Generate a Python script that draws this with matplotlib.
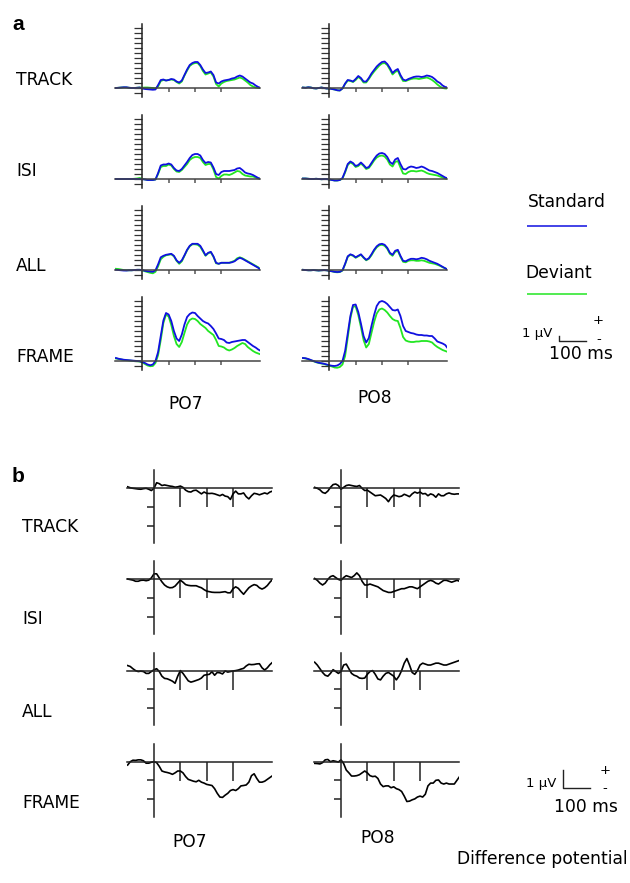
import numpy as np
import matplotlib.pyplot as plt

# time base of the read-off waveforms (ms)
times = np.arange(-100, 451, 10)

conditions = ["TRACK", "ISI", "ALL", "FRAME"]
channels = ["PO7", "PO8"]

# ---- panel a: standard / deviant ERPs (uV) ----
track_po7_std = [0.0, 0.05, 0.1, 0.15, 0.15, 0.05, 0.0, 0.0, 0.05, 0.1,
                 -0.1, -0.2, -0.25, -0.3, -0.35, -0.3, 0.6, 1.6, 1.7, 1.5,
                 1.6, 1.8, 1.7, 1.3, 1.1, 1.5, 2.6, 3.7, 4.6, 5.0,
                 5.2, 5.2, 4.6, 3.7, 3.0, 3.1, 3.3, 2.6, 1.1, 0.9,
                 1.3, 1.5, 1.6, 1.7, 1.9, 2.0, 2.3, 2.5, 2.3, 1.9,
                 1.5, 1.1, 0.9, 0.5, 0.2, 0.0]
track_po7_dev = [0.0, 0.05, 0.1, 0.12, 0.1, 0.05, 0.0, 0.0, 0.05, 0.1,
                 0.05, 0.1, 0.1, 0.05, 0.0, -0.1, 0.3, 1.4, 1.6, 1.5,
                 1.6, 1.7, 1.6, 1.2, 0.9, 1.3, 2.5, 3.5, 4.4, 4.8,
                 5.0, 5.0, 4.4, 3.4, 2.7, 2.9, 3.1, 2.3, 0.8, 0.3,
                 0.9, 1.2, 1.4, 1.5, 1.6, 1.7, 1.9, 2.1, 1.9, 1.5,
                 1.1, 0.6, 0.3, 0.1, 0.0, 0.0]
track_po8_std = [0.1, 0.05, 0.15, 0.1, -0.05, -0.1, 0.0, 0.1, 0.0, -0.1,
                 -0.1, -0.2, -0.3, -0.45, -0.5, -0.1, 0.9, 1.6, 1.5, 1.3,
                 1.8, 2.4, 2.0, 1.3, 1.3, 2.0, 2.9, 3.6, 4.3, 4.8,
                 5.2, 5.3, 4.8, 4.0, 3.0, 3.5, 3.8, 2.6, 1.7, 1.5,
                 1.8, 2.0, 2.2, 2.3, 2.3, 2.2, 2.3, 2.5, 2.4, 2.2,
                 1.8, 1.3, 1.0, 0.5, 0.2, 0.1]
track_po8_dev = [0.1, 0.05, 0.15, 0.1, -0.05, -0.1, 0.0, 0.1, 0.0, -0.1,
                 -0.1, -0.2, -0.3, -0.45, -0.5, -0.1, 0.8, 1.5, 1.4, 1.2,
                 1.6, 2.2, 1.8, 1.1, 1.1, 1.8, 2.6, 3.3, 3.9, 4.5,
                 4.9, 5.0, 4.6, 3.7, 2.7, 3.2, 3.5, 2.3, 1.4, 1.4,
                 1.6, 1.8, 1.9, 1.9, 1.8, 1.9, 2.0, 2.1, 1.9, 1.6,
                 1.2, 0.7, 0.3, 0.0, -0.1, -0.1]
isi_po7_std = [0.0, 0.0, 0.0, 0.0, 0.0, 0.0, 0.0, 0.0, 0.0, 0.0,
               -0.05, -0.1, -0.2, -0.2, -0.2, -0.1, 1.2, 2.7, 2.9, 2.9,
               3.1, 2.9, 2.2, 1.7, 1.6, 2.0, 2.7, 3.4, 4.2, 4.8,
               5.0, 5.0, 4.7, 3.8, 3.2, 3.4, 3.3, 2.3, 1.0, 0.8,
               1.4, 1.6, 1.6, 1.6, 1.7, 1.8, 2.1, 2.2, 1.8, 1.3,
               1.1, 1.0, 0.8, 0.5, 0.2, 0.0]
isi_po7_dev = [0.0, 0.0, 0.0, 0.0, 0.0, 0.0, 0.0, 0.05, 0.1, 0.2,
               0.05, -0.1, -0.2, -0.2, -0.2, -0.1, 1.0, 2.4, 2.6, 2.6,
               2.9, 2.7, 2.0, 1.5, 1.4, 1.8, 2.4, 3.0, 3.8, 4.2,
               4.4, 4.4, 4.2, 3.4, 2.8, 3.0, 3.0, 1.9, 0.4, 0.1,
               0.6, 0.9, 0.9, 0.8, 1.0, 1.3, 1.6, 1.5, 1.0, 0.7,
               0.6, 0.5, 0.5, 0.3, 0.1, 0.0]
isi_po8_std = [0.1, 0.1, 0.05, 0.0, 0.0, 0.05, 0.0, -0.05, 0.0, 0.0,
               -0.1, -0.2, -0.3, -0.3, -0.2, 0.2, 1.5, 3.0, 3.5, 3.2,
               2.6, 2.8, 3.3, 2.8, 2.2, 2.4, 3.2, 4.0, 4.7, 5.1,
               5.2, 5.0, 4.4, 3.4, 3.0, 3.9, 4.2, 3.0, 2.0, 1.9,
               2.3, 2.5, 2.4, 2.2, 2.3, 2.5, 2.3, 2.0, 1.7, 1.6,
               1.4, 1.2, 0.9, 0.6, 0.3, 0.1]
isi_po8_dev = [0.1, 0.1, 0.05, 0.0, 0.0, 0.05, 0.0, -0.05, 0.0, 0.0,
               -0.1, -0.2, -0.3, -0.3, -0.2, 0.1, 1.3, 2.8, 3.3, 3.0,
               2.4, 2.6, 3.1, 2.6, 2.0, 2.2, 2.9, 3.7, 4.3, 4.6,
               4.7, 4.5, 3.9, 2.9, 2.5, 3.4, 3.6, 2.3, 1.1, 1.0,
               1.4, 1.6, 1.6, 1.5, 1.6, 1.7, 1.5, 1.2, 1.0, 0.9,
               0.8, 0.7, 0.5, 0.3, 0.1, 0.0]
all_po7_std = [0.1, 0.05, 0.0, -0.05, -0.05, 0.0, 0.0, 0.05, 0.1, 0.1,
               0.05, -0.1, -0.2, -0.25, -0.3, 0.0, 1.2, 2.6, 2.9, 3.1,
               3.2, 3.3, 2.9, 2.0, 1.5, 2.0, 3.0, 4.1, 4.9, 5.3,
               5.3, 5.3, 4.9, 4.0, 3.0, 3.5, 3.7, 2.8, 1.5, 1.3,
               1.5, 1.5, 1.5, 1.5, 1.6, 1.8, 2.2, 2.5, 2.3, 2.0,
               1.7, 1.4, 1.1, 0.8, 0.5, 0.0]
all_po7_dev = [0.3, 0.25, 0.15, 0.05, 0.0, 0.0, 0.0, 0.05, 0.1, 0.1,
               0.0, -0.2, -0.35, -0.5, -0.6, -0.3, 0.8, 2.2, 2.7, 3.0,
               3.1, 3.2, 2.8, 1.9, 1.3, 1.8, 2.9, 4.0, 4.8, 5.2,
               5.2, 5.1, 4.7, 3.8, 2.9, 3.4, 3.6, 2.7, 1.4, 1.3,
               1.5, 1.5, 1.5, 1.5, 1.7, 1.9, 2.4, 2.6, 2.4, 2.1,
               1.8, 1.5, 1.2, 0.9, 0.6, 0.1]
all_po8_std = [0.1, 0.05, 0.0, 0.0, 0.05, 0.0, -0.05, 0.0, 0.05, 0.0,
               -0.1, -0.2, -0.3, -0.35, -0.3, 0.0, 1.3, 2.8, 3.2, 3.0,
               2.6, 2.9, 3.2, 2.6, 2.1, 2.4, 3.2, 4.1, 4.8, 5.2,
               5.3, 5.1, 4.5, 3.5, 3.1, 3.9, 4.1, 2.9, 1.9, 1.8,
               2.1, 2.3, 2.3, 2.2, 2.3, 2.5, 2.4, 2.2, 1.9, 1.7,
               1.5, 1.3, 1.0, 0.7, 0.4, 0.1]
all_po8_dev = [0.1, 0.05, 0.0, 0.0, 0.05, 0.0, -0.05, 0.0, 0.05, 0.0,
               -0.1, -0.2, -0.35, -0.4, -0.35, -0.05, 1.2, 2.7, 3.1, 2.9,
               2.5, 2.8, 3.1, 2.5, 2.0, 2.3, 3.0, 3.9, 4.6, 5.0,
               5.1, 4.9, 4.3, 3.3, 2.9, 3.7, 3.9, 2.7, 1.7, 1.6,
               1.9, 2.0, 2.0, 1.9, 1.9, 2.0, 1.9, 1.7, 1.5, 1.4,
               1.3, 1.1, 0.9, 0.6, 0.4, 0.1]
frame_po7_std = [0.6, 0.45, 0.35, 0.25, 0.2, 0.15, 0.1, 0.05, 0.0, -0.05,
                 -0.2, -0.4, -0.7, -0.85, -0.7, 0.0, 1.8, 5.0, 8.1, 9.6,
                 9.3, 8.0, 6.0, 4.5, 4.0, 5.3, 7.3, 8.8, 9.4, 9.7,
                 9.6, 9.0, 8.5, 8.0, 7.7, 7.5, 7.0, 6.4, 5.5, 4.5,
                 4.4, 4.2, 3.7, 3.6, 3.8, 3.9, 4.0, 4.1, 4.2, 4.2,
                 3.8, 3.4, 3.0, 2.7, 2.3, 2.0]
frame_po7_dev = [0.5, 0.4, 0.3, 0.2, 0.15, 0.1, 0.05, 0.0, -0.05, -0.1,
                 -0.3, -0.6, -0.9, -1.05, -1.0, -0.4, 1.2, 4.2, 7.6, 9.3,
                 8.9, 7.2, 5.0, 3.4, 2.8, 3.8, 5.6, 7.3, 8.2, 8.5,
                 8.4, 8.0, 7.4, 7.0, 6.6, 6.0, 5.6, 5.2, 4.2, 3.0,
                 2.9, 2.7, 2.3, 2.1, 2.3, 2.6, 3.0, 3.3, 3.6, 3.4,
                 2.8, 2.4, 2.0, 1.7, 1.5, 1.3]
frame_po8_std = [0.6, 0.55, 0.4, 0.2, 0.0, -0.2, -0.35, -0.45, -0.55, -0.7,
                 -0.85, -0.95, -1.0, -0.9, -0.6, 0.0, 2.0, 5.5, 9.0, 11.2,
                 11.3, 9.8, 7.5, 5.0, 3.7, 4.6, 7.0, 9.2, 11.0, 11.8,
                 12.0, 11.8, 11.4, 10.8, 10.2, 10.1, 10.3, 9.0, 7.0, 6.0,
                 5.8, 5.6, 5.5, 5.3, 5.2, 5.2, 5.1, 5.1, 5.0, 5.0,
                 4.5, 3.9, 3.7, 3.5, 3.2, 2.5]
frame_po8_dev = [0.6, 0.5, 0.35, 0.15, -0.05, -0.25, -0.4, -0.5, -0.6, -0.75,
                 -0.95, -1.1, -1.3, -1.35, -1.2, -0.7, 1.0, 4.7, 8.5, 10.9,
                 10.9, 9.2, 6.8, 4.2, 2.7, 3.4, 5.6, 7.8, 9.5, 10.3,
                 10.5, 10.2, 9.7, 9.0, 8.4, 8.1, 8.0, 6.6, 4.8, 4.1,
                 3.9, 3.8, 3.8, 3.9, 3.9, 4.0, 4.0, 4.0, 3.9, 3.7,
                 3.2, 2.8, 2.5, 2.2, 2.0, 1.8]

# ---- panel b: difference potentials (uV) ----
track_po7_diff = [0.08, 0.03, 0.0, -0.02, -0.04, -0.05, -0.02, 0.0, -0.05, -0.12,
                  0.0, 0.3, 0.25, 0.15, 0.18, 0.15, 0.12, 0.1, 0.06, 0.08,
                  0.12, 0.05, -0.1, -0.18, -0.2, -0.12, -0.1, -0.2, -0.3, -0.2,
                  -0.27, -0.28, -0.27, -0.3, -0.35, -0.4, -0.33, -0.42, -0.45, -0.6,
                  -0.3, -0.15, -0.3, -0.3, -0.25, -0.45, -0.57, -0.4, -0.27, -0.3,
                  -0.35, -0.3, -0.25, -0.3, -0.2, -0.15]
track_po8_diff = [0.05, 0.0, -0.08, -0.22, -0.27, -0.15, 0.05, 0.2, 0.23, 0.15,
                  -0.05, 0.05, 0.15, 0.18, 0.15, 0.12, 0.1, 0.15, 0.0, -0.12,
                  -0.1, -0.2, -0.3, -0.4, -0.38, -0.36, -0.45, -0.55, -0.72, -0.5,
                  -0.36, -0.4, -0.45, -0.42, -0.32, -0.38, -0.45, -0.3, -0.2, -0.26,
                  -0.2, -0.3, -0.28, -0.4, -0.3, -0.35, -0.48, -0.3, -0.4, -0.4,
                  -0.3, -0.25, -0.3, -0.32, -0.3, -0.3]
isi_po7_diff = [0.02, -0.01, -0.04, -0.1, -0.1, -0.05, -0.04, -0.07, -0.04, 0.08,
                0.3, 0.3, 0.08, -0.13, -0.3, -0.4, -0.45, -0.44, -0.36, -0.2,
                -0.04, -0.15, -0.28, -0.32, -0.34, -0.34, -0.34, -0.4, -0.45, -0.55,
                -0.63, -0.66, -0.69, -0.7, -0.7, -0.7, -0.68, -0.66, -0.72, -0.72,
                -0.5, -0.4, -0.48, -0.65, -0.8, -0.62, -0.45, -0.35, -0.28, -0.32,
                -0.45, -0.52, -0.45, -0.33, -0.15, 0.0]
isi_po8_diff = [0.05, -0.05, -0.2, -0.3, -0.2, 0.0, 0.15, 0.2, 0.1, 0.0,
                -0.05, 0.1, 0.2, 0.15, 0.1, 0.2, 0.35, 0.2, -0.1, -0.3,
                -0.3, -0.25, -0.3, -0.35, -0.4, -0.5, -0.6, -0.65, -0.7, -0.7,
                -0.65, -0.6, -0.55, -0.5, -0.5, -0.45, -0.4, -0.4, -0.45, -0.5,
                -0.4, -0.3, -0.2, -0.1, -0.05, -0.1, -0.2, -0.25, -0.15, -0.05,
                -0.05, -0.1, -0.15, -0.1, -0.05, -0.1]
all_po7_diff = [0.27, 0.22, 0.1, 0.0, -0.05, -0.03, -0.05, -0.15, -0.15, -0.05,
                0.05, 0.1, -0.05, -0.3, -0.42, -0.44, -0.5, -0.57, -0.68, -0.3,
                0.0, -0.15, -0.35, -0.55, -0.62, -0.58, -0.53, -0.48, -0.4, -0.25,
                -0.22, -0.2, -0.06, -0.25, -0.1, -0.12, -0.18, -0.02, -0.08, -0.05,
                -0.02, 0.0, 0.03, 0.08, 0.12, 0.25, 0.34, 0.32, 0.33, 0.36,
                0.37, 0.15, 0.03, 0.15, 0.32, 0.45]
all_po8_diff = [0.45, 0.3, 0.1, -0.1, -0.25, -0.3, -0.15, 0.05, -0.05, -0.15,
                -0.05, 0.3, 0.35, 0.1, -0.15, -0.25, -0.3, -0.4, -0.42, -0.4,
                -0.2, -0.05, 0.0, -0.2, -0.45, -0.5, -0.3, -0.15, -0.1, -0.2,
                -0.3, -0.5, -0.3, 0.0, 0.4, 0.65, 0.3, -0.1, -0.2, 0.0,
                0.3, 0.4, 0.35, 0.3, 0.3, 0.35, 0.4, 0.4, 0.35, 0.3,
                0.3, 0.35, 0.4, 0.45, 0.5, 0.55]
frame_po7_diff = [-0.18, 0.0, 0.08, 0.07, 0.1, 0.1, 0.05, -0.08, -0.08, -0.03,
                  0.0, -0.05, -0.25, -0.5, -0.55, -0.58, -0.62, -0.68, -0.6, -0.5,
                  -0.5, -0.6, -0.8, -0.95, -1.0, -1.05, -1.08, -1.0, -1.1, -1.15,
                  -1.22, -1.25, -1.28, -1.45, -1.7, -1.9, -1.92, -1.8, -1.7, -1.55,
                  -1.5, -1.55, -1.45, -1.3, -1.28, -1.25, -1.1, -0.75, -0.65, -0.9,
                  -1.1, -1.1, -1.05, -0.95, -0.85, -0.75]
frame_po8_diff = [-0.09, -0.1, -0.12, -0.05, 0.1, 0.12, 0.0, 0.05, 0.02, -0.02,
                  0.1, -0.1, -0.45, -0.6, -0.77, -0.77, -0.75, -0.7, -0.6, -0.5,
                  -0.6, -0.75, -0.8, -0.78, -0.9, -1.2, -1.34, -1.3, -1.3, -1.4,
                  -1.35, -1.45, -1.5, -1.6, -1.85, -2.14, -2.12, -2.05, -2.0, -1.9,
                  -1.85, -1.9, -1.75, -1.3, -1.15, -1.15, -1.0, -0.98, -1.15, -1.2,
                  -1.15, -1.2, -1.2, -1.2, -1.0, -0.8]

std_a = [[track_po7_std, track_po8_std], [isi_po7_std, isi_po8_std],
         [all_po7_std, all_po8_std], [frame_po7_std, frame_po8_std]]
dev_a = [[track_po7_dev, track_po8_dev], [isi_po7_dev, isi_po8_dev],
         [all_po7_dev, all_po8_dev], [frame_po7_dev, frame_po8_dev]]
diff_b = [[track_po7_diff, track_po8_diff], [isi_po7_diff, isi_po8_diff],
          [all_po7_diff, all_po8_diff], [frame_po7_diff, frame_po8_diff]]

scale_ms = 100
scale_uv = 1

# ---- layout (pixels of the 630x883 output) ----
W, H = 630, 883
fig = plt.figure(figsize=(W / 100, H / 100), dpi=100)
plt.rcParams["font.family"] = "DejaVu Sans"

px_ms = 0.2635
t_lo, t_hi = -103, 448
blue = "#1010e0"
green = "#22e622"


def rect(left, top, width, height):
    return [left / W, 1 - (top + height) / H, width / W, height / H]


def make_axes(x0, y0, uv_lo, uv_hi, px_uv):
    ax = fig.add_axes(rect(x0 + t_lo * px_ms, y0 - uv_hi * px_uv,
                           (t_hi - t_lo) * px_ms, (uv_hi - uv_lo) * px_uv))
    ax.set_xlim(t_lo, t_hi)
    ax.set_ylim(uv_lo, uv_hi)
    ax.patch.set_visible(False)
    ax.spines["top"].set_visible(False)
    ax.spines["right"].set_visible(False)
    ax.spines["left"].set_position(("data", 0))
    ax.spines["bottom"].set_position(("data", 0))
    ax.tick_params(labelbottom=False, labelleft=False)
    return ax


def txt(x, y, s, size=12.3, **kw):
    fig.text(x / W, 1 - y / H, s, fontsize=size, va="center", **kw)


# panel a
col_x_a = [142.3, 329.3]
row_y_a = [88, 179, 270.3, 361]
for i in range(4):
    for j in range(2):
        ax = make_axes(col_x_a[j], row_y_a[i], -1.8, 12.8, 5.0)
        ax.plot(times, dev_a[i][j], color=green, lw=1.3)
        ax.plot(times, std_a[i][j], color=blue, lw=1.3)
        ax.spines["left"].set_color("#222222")
        ax.spines["bottom"].set_color("#444444")
        ax.spines["left"].set_linewidth(1.1)
        ax.spines["bottom"].set_linewidth(1.1)
        ax.set_yticks(range(-1, 13))
        ax.set_xticks([100, 200, 300])
        ax.tick_params(axis="y", length=5.8, width=0.9, color="#333333")
        ax.tick_params(axis="x", length=3.0, width=1.1, color="#555555")

# panel b
col_x_b = [154, 341]
row_y_b = [488.3, 579.4, 670.6, 761.7]
for i in range(4):
    for j in range(2):
        ax = make_axes(col_x_b[j], row_y_b[i], -2.95, 0.97, 18.6)
        ax.plot(times, diff_b[i][j], color="black", lw=1.2)
        for s in ("left", "bottom"):
            ax.spines[s].set_linewidth(1.1)
            ax.spines[s].set_color("#222222")
        ax.set_yticks([-1, -2])
        ax.set_xticks([100, 200, 300])
        ax.tick_params(axis="y", length=5.0, width=1.1, color="#222222")
        ax.tick_params(axis="x", length=13.4, width=1.1, color="#222222")

# scale bars (same scale as the panels)
for cx, cy, px_uv in [(559.3, 340.7, 5.0), (563.3, 788.3, 18.6)]:
    sb = fig.add_axes(rect(cx - 2, cy - scale_uv * px_uv - 2,
                           scale_ms * px_ms + 4, scale_uv * px_uv + 4))
    sb.set_xlim(-2 / px_ms, scale_ms + 2 / px_ms)
    sb.set_ylim(-2 / px_uv, scale_uv + 2 / px_uv)
    sb.axis("off")
    sb.plot([0, 0, scale_ms], [scale_uv, 0, 0], color="#222222", lw=1.0)

# legend keys
leg = fig.add_axes(rect(527, 220, 60, 80))
leg.set_xlim(0, 1)
leg.set_ylim(0, 1)
leg.axis("off")
leg.plot([0, 1], [0.92, 0.92], color=blue, lw=1.1)
leg.plot([0, 1], [0.075, 0.075], color=green, lw=1.1)

# texts
txt(12, 24, "a", size=15, fontweight="bold", family="Liberation Sans")
txt(12, 477, "b", size=15, fontweight="bold", family="Liberation Sans")
for k, name in enumerate(conditions):
    txt(16, [80, 171, 266, 357][k], name)
    txt(22, [527, 619, 712, 803][k], name)
txt(186, 404, channels[0], ha="center")
txt(375, 398, channels[1], ha="center")
txt(190, 842, channels[0], ha="center")
txt(378, 838, channels[1], ha="center")

txt(528, 202, "Standard")
txt(525, 273, "Deviant")
txt(598.5, 320, "+", size=9.5, ha="center")
txt(599, 340, "-", size=9.5, ha="center")
txt(537, 334, "1 \u00b5V", size=9.5, ha="center")
txt(581, 354, "100 ms", ha="center")

txt(605, 770, "+", size=9.5, ha="center")
txt(604.5, 789, "-", size=9.5, ha="center")
txt(541.5, 784, "1 \u00b5V", size=9.5, ha="center")
txt(586, 806.5, "100 ms", ha="center")
txt(628, 859, "Difference potential", ha="right")

fig.savefig("out.png", dpi=100)
